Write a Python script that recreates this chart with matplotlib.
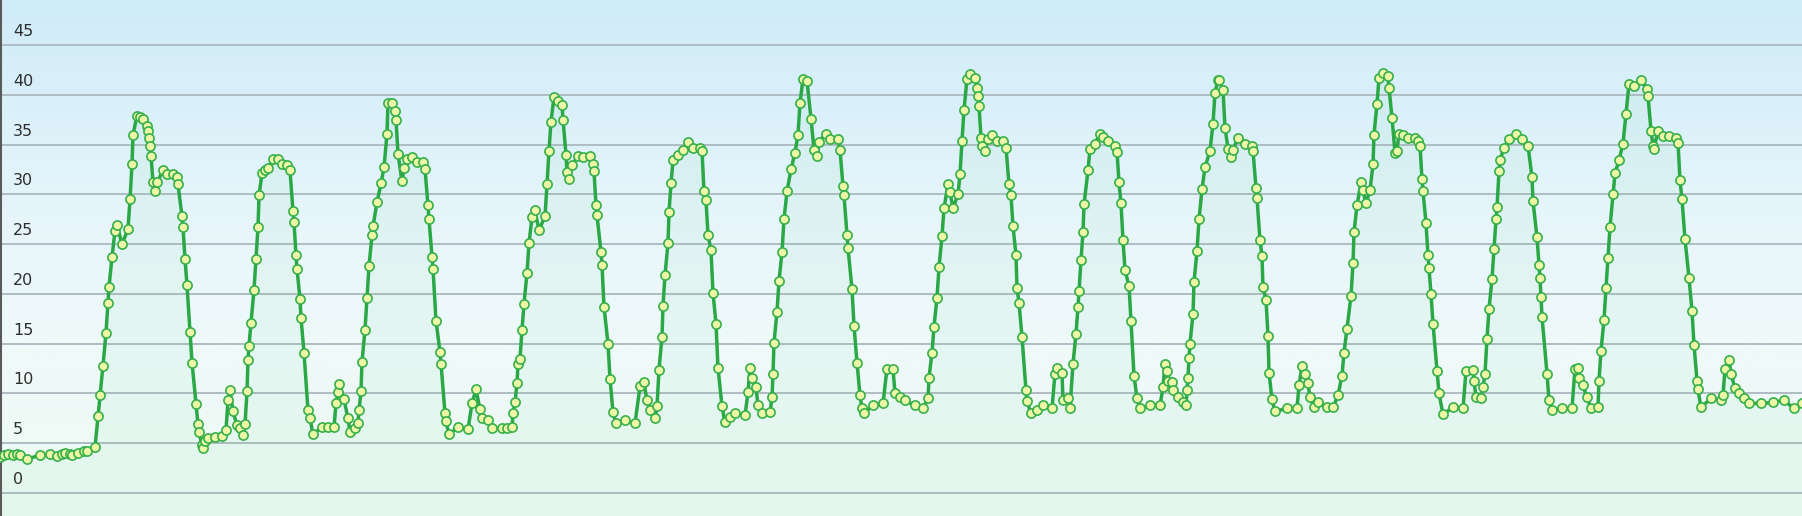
import numpy as np
import matplotlib
matplotlib.use("Agg")
import matplotlib.pyplot as plt
from matplotlib.colors import LinearSegmentedColormap

# sample position (x along the chart) and reading
t = [0, 4, 8, 13, 17, 20, 27, 40, 50, 57, 62, 65, 70, 72, 78, 84, 87, 95, 98, 100,
     103, 106, 108, 109, 112, 115, 117, 122, 128, 130, 132, 133, 137, 140, 143, 147, 148, 149, 150, 151,
     153, 155, 157, 163, 167, 173, 177, 178, 182, 183, 185, 187, 190, 192, 196, 198, 199, 202, 203, 205,
     208, 215, 222, 226, 228, 230, 233, 237, 240, 243, 245, 247, 248, 249, 251, 254, 256, 258, 259, 262,
     265, 268, 273, 278, 282, 287, 290, 293, 294, 296, 297, 300, 301, 304, 308, 310, 313, 322, 328, 334,
     336, 338, 339, 344, 348, 350, 355, 358, 359, 361, 362, 365, 367, 369, 372, 373, 377, 381, 384, 387,
     388, 392, 395, 396, 398, 402, 404, 407, 412, 417, 423, 425, 428, 429, 432, 433, 436, 440, 441, 445,
     446, 449, 458, 468, 472, 476, 480, 482, 488, 492, 502, 507, 512, 513, 515, 517, 518, 520, 522, 524,
     527, 529, 532, 535, 539, 545, 547, 549, 551, 554, 558, 562, 563, 566, 567, 569, 572, 578, 583, 590,
     593, 594, 596, 597, 601, 602, 604, 608, 610, 613, 616, 625, 635, 640, 644, 647, 650, 655, 657, 659,
     662, 663, 665, 668, 669, 671, 673, 678, 683, 688, 693, 700, 702, 704, 706, 708, 711, 713, 716, 718,
     722, 725, 730, 735, 745, 748, 750, 752, 756, 758, 762, 770, 772, 773, 774, 777, 779, 782, 784, 787,
     791, 795, 798, 800, 803, 807, 811, 814, 817, 819, 826, 830, 838, 840, 843, 844, 847, 848, 852, 854,
     857, 860, 862, 864, 873, 883, 887, 893, 895, 900, 905, 915, 923, 928, 929, 932, 934, 937, 939, 942,
     944, 948, 950, 953, 958, 960, 962, 964, 967, 970, 975, 977, 978, 979, 981, 982, 985, 988, 992, 997,
     1003, 1006, 1009, 1011, 1013, 1016, 1017, 1019, 1022, 1026, 1027, 1031, 1037, 1043, 1052, 1055, 1057, 1062, 1063, 1068,
     1070, 1073, 1076, 1078, 1079, 1081, 1083, 1084, 1088, 1090, 1095, 1100, 1103, 1108, 1115, 1117, 1119, 1121, 1123, 1125,
     1129, 1131, 1134, 1137, 1140, 1150, 1160, 1163, 1165, 1167, 1168, 1172, 1173, 1178, 1183, 1186, 1187, 1188, 1189, 1190,
     1193, 1194, 1197, 1199, 1202, 1205, 1210, 1213, 1215, 1218, 1219, 1223, 1225, 1228, 1231, 1233, 1238, 1245, 1252, 1253,
     1256, 1257, 1260, 1262, 1263, 1266, 1268, 1269, 1272, 1275, 1287, 1297, 1299, 1302, 1305, 1308, 1310, 1314, 1318, 1327,
     1333, 1338, 1342, 1344, 1347, 1351, 1353, 1354, 1357, 1361, 1363, 1366, 1370, 1373, 1374, 1377, 1379, 1383, 1388, 1389,
     1392, 1395, 1397, 1399, 1403, 1408, 1415, 1418, 1420, 1422, 1423, 1426, 1428, 1429, 1431, 1433, 1437, 1439, 1443, 1453,
     1463, 1466, 1473, 1474, 1476, 1481, 1483, 1485, 1487, 1489, 1492, 1494, 1496, 1497, 1499, 1500, 1504, 1509, 1516, 1522,
     1528, 1532, 1533, 1537, 1539, 1540, 1541, 1542, 1547, 1549, 1552, 1562, 1572, 1575, 1578, 1579, 1583, 1587, 1591, 1598,
     1599, 1601, 1604, 1606, 1608, 1610, 1613, 1615, 1619, 1623, 1626, 1629, 1634, 1641, 1647, 1648, 1651, 1653, 1654, 1658,
     1663, 1669, 1676, 1678, 1680, 1682, 1685, 1689, 1692, 1694, 1697, 1698, 1701, 1711, 1721, 1723, 1725, 1729, 1731, 1735,
     1739, 1744, 1749, 1761, 1773, 1784, 1794, 1802]

temp = [3.6, 3.8, 3.9, 3.8, 3.9, 3.8, 3.4, 3.8, 3.9, 3.7, 3.9, 4.0, 3.9, 3.8, 4.0, 4.2, 4.2, 4.6, 7.7, 9.8,
        12.8, 16.1, 19.1, 20.7, 23.7, 26.3, 26.9, 25.0, 26.5, 29.5, 33.0, 36.0, 37.9, 37.8, 37.6, 36.9, 36.4, 35.7, 34.9, 33.9,
        31.2, 30.3, 31.2, 32.4, 32.0, 32.0, 31.7, 31.0, 27.8, 26.7, 23.5, 20.9, 16.2, 13.1, 8.9, 6.9, 6.1, 4.8, 4.5, 5.2,
        5.5, 5.6, 5.7, 6.3, 9.3, 10.3, 8.2, 6.8, 6.5, 5.8, 6.9, 10.2, 13.4, 14.8, 17.1, 20.4, 23.5, 26.7, 29.9, 32.1,
        32.4, 32.6, 33.5, 33.5, 33.0, 32.9, 32.4, 28.3, 27.2, 23.9, 22.5, 19.5, 17.6, 14.1, 8.3, 7.5, 5.9, 6.6, 6.6, 6.6,
        9.0, 10.1, 10.9, 9.4, 7.5, 6.1, 6.5, 7.0, 8.3, 10.2, 13.2, 16.4, 19.6, 22.8, 25.9, 26.8, 29.2, 31.1, 32.7, 36.1,
        39.2, 39.2, 38.4, 37.5, 34.1, 31.3, 32.6, 33.5, 33.7, 33.2, 33.2, 32.5, 28.9, 27.5, 23.7, 22.5, 17.3, 14.2, 13.0, 8.0,
        7.2, 5.9, 6.6, 6.4, 9.0, 10.4, 8.4, 7.5, 7.3, 6.5, 6.5, 6.5, 6.6, 8.0, 9.1, 11.0, 13.0, 13.5, 16.4, 19.0,
        22.1, 25.1, 27.7, 28.4, 26.4, 27.8, 31.0, 34.4, 37.3, 39.8, 39.4, 39.0, 37.5, 34.0, 32.2, 31.5, 32.9, 33.9, 33.8, 33.9,
        33.0, 32.3, 28.9, 27.9, 24.2, 22.9, 18.7, 15.0, 11.5, 8.1, 7.0, 7.3, 7.0, 10.7, 11.1, 9.3, 8.3, 7.5, 8.7, 12.4,
        15.7, 18.8, 21.9, 25.1, 28.2, 31.1, 33.4, 34.0, 34.5, 35.3, 34.7, 34.7, 34.4, 30.3, 29.4, 25.9, 24.4, 20.1, 17.0, 12.6,
        8.7, 7.1, 7.6, 8.0, 7.8, 10.1, 12.6, 11.6, 10.6, 8.8, 8.0, 8.1, 9.6, 12.0, 15.1, 18.2, 21.3, 24.2, 27.5, 30.3,
        32.5, 34.2, 36.0, 39.2, 41.6, 41.4, 37.6, 34.5, 33.9, 35.3, 36.1, 35.6, 35.6, 34.5, 30.8, 29.9, 25.9, 24.6, 20.5, 16.8,
        13.1, 9.8, 8.5, 8.0, 8.8, 9.0, 12.5, 12.5, 10.0, 9.6, 9.3, 8.8, 8.5, 9.5, 11.6, 14.1, 16.7, 19.6, 22.7, 25.8,
        28.6, 31.0, 30.2, 28.6, 30.0, 32.0, 35.4, 38.5, 41.6, 42.1, 41.7, 40.7, 39.9, 38.9, 35.7, 34.9, 34.4, 35.6, 36.0, 35.4,
        35.4, 34.7, 31.0, 29.9, 26.8, 23.9, 20.6, 19.1, 15.7, 10.3, 9.2, 8.0, 8.3, 8.8, 8.5, 12.0, 12.6, 12.1, 9.3, 9.5,
        8.5, 13.0, 16.0, 18.7, 20.3, 23.4, 26.2, 29.0, 32.4, 34.6, 35.1, 36.1, 35.8, 35.4, 34.9, 34.3, 31.2, 29.1, 25.4, 22.4,
        20.8, 17.3, 11.8, 9.5, 8.5, 8.8, 8.8, 10.6, 13.0, 12.3, 11.3, 11.1, 10.3, 9.6, 9.1, 8.8, 10.3, 11.6, 13.6, 15.0,
        18.0, 21.2, 24.3, 27.5, 30.5, 32.7, 34.4, 37.1, 40.2, 41.5, 41.5, 40.5, 36.7, 34.6, 33.8, 34.5, 35.7, 35.1, 34.9, 34.4,
        30.6, 29.6, 25.4, 23.8, 20.7, 19.4, 15.8, 12.1, 9.4, 8.2, 8.5, 8.5, 10.8, 12.8, 12.0, 11.0, 9.6, 8.6, 9.1, 8.6,
        8.6, 9.8, 11.8, 14.1, 16.5, 19.8, 23.1, 26.2, 28.9, 31.2, 30.4, 29.1, 30.4, 33.0, 36.0, 39.1, 41.7, 42.2, 41.9, 40.7,
        37.7, 34.2, 34.4, 36.1, 36.0, 35.7, 35.7, 35.4, 34.9, 31.5, 30.3, 27.1, 23.9, 22.6, 20.0, 17.0, 12.3, 10.0, 7.9, 8.6,
        8.5, 12.3, 12.4, 11.3, 9.6, 9.5, 10.6, 12.0, 15.5, 18.5, 21.5, 24.5, 27.5, 28.7, 32.3, 33.4, 34.7, 35.6, 36.1, 35.6,
        34.9, 31.7, 29.3, 25.7, 22.9, 21.6, 19.7, 17.7, 12.0, 9.3, 8.3, 8.5, 8.5, 12.5, 12.6, 11.6, 10.8, 9.6, 8.5, 8.6,
        11.3, 14.3, 17.4, 20.6, 23.6, 26.7, 30.0, 32.1, 33.4, 35.1, 38.1, 41.1, 40.9, 41.5, 40.6, 39.9, 36.4, 34.9, 34.6, 36.4,
        35.9, 35.9, 35.7, 35.2, 31.4, 29.5, 25.5, 21.6, 18.3, 14.9, 11.3, 10.4, 8.6, 9.5, 9.3, 9.8, 12.5, 13.4, 12.0, 10.5,
        10.0, 9.5, 9.0, 9.0, 9.1, 9.3, 8.5, 9.0]

yticks = [0, 5, 10, 15, 20, 25, 30, 35, 40, 45]

W, H = 1802, 516
fig = plt.figure(figsize=(W / 100, H / 100), dpi=100)
ax = fig.add_axes([0, 0, 1, 1])

ymin, ymax = -2.31, 49.52
ax.set_xlim(0, W)
ax.set_ylim(ymin, ymax)

# background gradient: light blue at top fading to pale green at bottom
bg = LinearSegmentedColormap.from_list("bg", [
    (0.0, "#eefbf4"),
    (0.35, "#eef9f9"),
    (0.55, "#e8f6fb"),
    (1.0, "#cfecf8"),
])
grad = np.linspace(0, 1, 256).reshape(-1, 1)
ax.imshow(grad, cmap=bg, aspect="auto", origin="lower",
          extent=[0, W, ymin, ymax], zorder=0)

for y in yticks:
    ax.axhline(y, color="#b0bcc3", lw=1.4, zorder=1)
    ax.text(13, y + 0.6, str(y), fontsize=11.5, color="#2e2e2e",
            va="bottom", ha="left", family="DejaVu Sans", zorder=5)

ax.fill_between(t, temp, ymin, color="#3cc070", alpha=0.05, lw=0, zorder=2)
ax.plot(t, temp, color="#2aa845", lw=2.5, zorder=3,
        marker="o", markersize=6.6, markerfacecolor="#eef7a6",
        markeredgecolor="#36b04b", markeredgewidth=1.2)

for s in ["top", "right", "bottom"]:
    ax.spines[s].set_visible(False)
ax.spines["left"].set_color("#5a5a5a")
ax.spines["left"].set_linewidth(2.2)
ax.set_xticks([])
ax.set_yticks([])

fig.savefig("out.png", dpi=100)
